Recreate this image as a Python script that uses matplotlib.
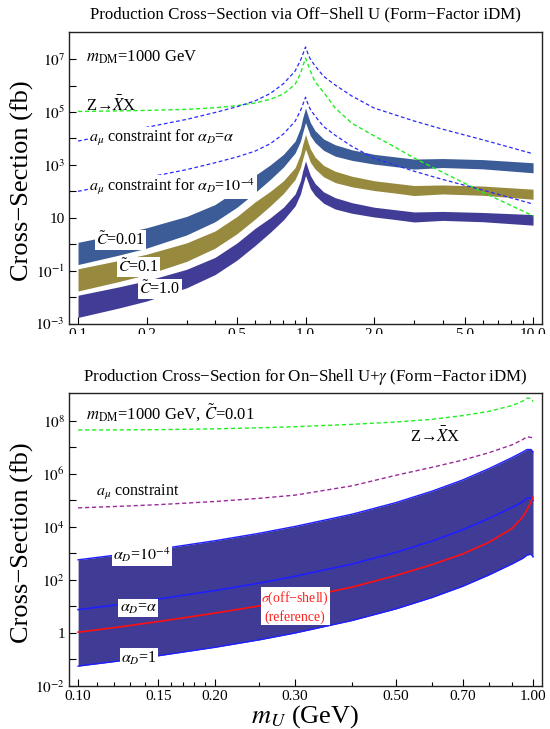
import numpy as np
import matplotlib
matplotlib.use("Agg")
import matplotlib.pyplot as plt
from matplotlib.patches import Rectangle
from matplotlib.ticker import FixedLocator, FixedFormatter, NullLocator, NullFormatter

plt.rcParams['font.family'] = ['Liberation Serif', 'DejaVu Serif']
plt.rcParams['mathtext.fontset'] = 'stix'

# ---- top panel: off-shell U, values are log10(sigma / fb) ----
mTop = [0.1, 0.15, 0.2, 0.3, 0.4, 0.5, 0.6, 0.7, 0.8, 0.9, 0.95, 0.97, 1.0, 1.03, 1.05,
        1.1, 1.2, 1.35, 1.6, 2.0, 2.5, 3.0, 4.0, 6.0, 10.0]
c001Hi = [0.07, 0.38, 0.62, 1.05, 1.5, 2.05, 2.6, 3.0, 3.4, 3.9, 4.4, 4.75, 5.15, 4.8, 4.6,
          4.3, 3.98, 3.76, 3.57, 3.4, 3.3, 3.22, 3.24, 3.2, 3.08]
c001Lo = [-0.77, -0.42, -0.15, 0.35, 0.85, 1.4, 1.95, 2.45, 2.92, 3.45, 3.9, 4.2, 4.6, 4.3, 4.1,
          3.85, 3.55, 3.33, 3.17, 3.03, 2.93, 2.84, 2.9, 2.85, 2.7]
c01Hi = [-0.93, -0.62, -0.38, 0.05, 0.5, 1.05, 1.6, 2.0, 2.4, 2.9, 3.4, 3.75, 4.15, 3.8, 3.6,
         3.3, 2.98, 2.76, 2.57, 2.4, 2.3, 2.22, 2.24, 2.2, 2.08]
c01Lo = [-1.77, -1.42, -1.15, -0.65, -0.15, 0.4, 0.95, 1.45, 1.92, 2.45, 2.9, 3.2, 3.6, 3.3, 3.1,
         2.85, 2.55, 2.33, 2.17, 2.03, 1.93, 1.84, 1.9, 1.85, 1.7]
c1Hi = [-1.93, -1.62, -1.38, -0.95, -0.5, 0.05, 0.6, 1.0, 1.4, 1.9, 2.4, 2.75, 3.15, 2.8, 2.6,
        2.3, 1.98, 1.76, 1.57, 1.4, 1.3, 1.22, 1.24, 1.2, 1.12]
c1Lo = [-2.77, -2.42, -2.15, -1.65, -1.15, -0.6, -0.05, 0.45, 0.92, 1.45, 1.9, 2.2, 2.6, 2.3, 2.1,
        1.85, 1.55, 1.33, 1.17, 1.03, 0.93, 0.84, 0.9, 0.85, 0.72]
zTop = [5.02, 5.04, 5.06, 5.1, 5.16, 5.24, 5.34, 5.48, 5.68, 6.05, 6.45, 6.7, 7.04, 6.75, 6.55,
        6.15, 5.75, 5.15, 4.57, 4.1, 3.65, 3.26, 2.72, 1.97, 1.07]
amuAlpha = [3.9, 4.2, 4.42, 4.72, 4.98, 5.2, 5.42, 5.7, 6.07, 6.55, 6.95, 7.15, 7.46, 7.15, 7.0,
            6.75, 6.35, 6.02, 5.6, 5.15, 4.88, 4.66, 4.35, 3.95, 3.42]
amu1em4 = [2.0, 2.3, 2.52, 2.82, 3.08, 3.3, 3.52, 3.8, 4.17, 4.65, 5.05, 5.25, 5.56, 5.25, 5.1,
           4.85, 4.45, 4.12, 3.7, 3.25, 2.98, 2.76, 2.45, 2.05, 1.52]

# ---- bottom panel: on-shell U + gamma ----
mBot = [0.1, 0.12, 0.15, 0.2, 0.25, 0.3, 0.4, 0.5, 0.6, 0.7, 0.8, 0.9, 0.95, 0.97, 0.99, 1.0]
zBot = [7.66, 7.66, 7.67, 7.7, 7.74, 7.78, 7.87, 7.96, 8.06, 8.2, 8.36, 8.58, 8.75, 8.86, 8.85, 8.73]
amuBot = [4.72, 4.77, 4.84, 4.96, 5.08, 5.2, 5.55, 5.95, 6.25, 6.52, 6.8, 7.1, 7.3, 7.4, 7.38, 7.28]
aD1em4 = [2.76, 2.93, 3.16, 3.48, 3.76, 4.02, 4.48, 4.92, 5.35, 5.77, 6.2, 6.62, 6.83, 6.92, 6.92, 6.83]
aDalpha = [0.88, 1.05, 1.28, 1.6, 1.88, 2.14, 2.6, 3.04, 3.47, 3.89, 4.32, 4.74, 4.95, 5.08, 5.1, 5.0]
aD1 = [-1.25, -1.08, -0.86, -0.54, -0.26, 0.0, 0.47, 0.91, 1.34, 1.76, 2.19, 2.61, 2.82, 2.94, 2.97, 2.87]
offShell = [0.03, 0.2, 0.43, 0.75, 1.02, 1.28, 1.73, 2.17, 2.58, 2.98, 3.42, 3.95, 4.38, 4.65, 4.95, 5.12]

topXTicks = [0.1, 0.2, 0.5, 1.0, 2.0, 5.0, 10.0]
topXLabels = ["0.1", "0.2", "0.5", "1.0", "2.0", "5.0", "10.0"]
botXTicks = [0.1, 0.15, 0.2, 0.3, 0.5, 0.7, 1.0]
botXLabels = ["0.10", "0.15", "0.20", "0.30", "0.50", "0.70", "1.00"]


def p(v):
    return 10.0 ** np.array(v)


def decadeLabels(lo, hi):
    labs = []
    for e in range(lo, hi + 1):
        if (e - lo) % 2:
            labs.append("")
        elif e == 0:
            labs.append("1")
        elif e == 1:
            labs.append("10")
        else:
            labs.append(r"$10^{%d}$" % e)
    return labs


def styleAxis(ax, xTicks, xLabels, xMinor, eLo, eHi):
    ax.set_xscale("log")
    ax.set_yscale("log")
    ax.xaxis.set_major_locator(FixedLocator(xTicks))
    ax.xaxis.set_major_formatter(FixedFormatter(xLabels))
    ax.xaxis.set_minor_locator(FixedLocator(xMinor))
    ax.xaxis.set_minor_formatter(NullFormatter())
    ax.yaxis.set_major_locator(FixedLocator([10.0 ** e for e in range(eLo, eHi + 1)]))
    ax.yaxis.set_major_formatter(FixedFormatter(decadeLabels(eLo, eHi)))
    ax.yaxis.set_minor_locator(NullLocator())
    ax.tick_params(which="both", direction="in", top=False, right=False, width=0.8,
                   labelsize=11, pad=3)
    ax.tick_params(which="major", length=5)
    ax.tick_params(which="minor", length=3)
    for s in ax.spines.values():
        s.set_linewidth(1.0)
        s.set_color("#222222")
    ax.set_ylabel("Cross−Section (fb)", fontsize=19)
    ax.yaxis.set_label_coords(-0.075, 0.49)


fig = plt.figure(figsize=(5.5, 7.29), dpi=100)
ax1 = fig.add_axes([0.1255, 0.5562, 0.86, 0.4005])
ax2 = fig.add_axes([0.1255, 0.059, 0.86, 0.4022])

box = dict(facecolor="white", edgecolor="none", pad=1.0)
dash = (0, (3, 2))
zLabel = "Z→" + r"$\bar{X}$" + "X"

# top panel
ax1.fill_between(mTop, p(c001Lo), p(c001Hi), color="#3c5c98", lw=0)
ax1.fill_between(mTop, p(c01Lo), p(c01Hi), color="#978a3f", lw=0)
ax1.fill_between(mTop, p(c1Lo), p(c1Hi), color="#413d97", lw=0)
ax1.plot(mTop, p(zTop), color="#22ee22", lw=1.0, ls=dash)
ax1.plot(mTop, p(amuAlpha), color="#2a2aff", lw=0.9, ls=dash)
ax1.plot(mTop, p(amu1em4), color="#2a2aff", lw=0.9, ls=dash)
styleAxis(ax1, topXTicks, topXLabels,
          [0.3, 0.4, 0.6, 0.7, 0.8, 0.9, 3, 4, 6, 7, 8, 9], -3, 7)
ax1.set_xlim(0.0913, 10.95)
ax1.set_ylim(1e-3, 1.1e8)
ax1.text(0.5, 1.06, "Production Cross−Section via Off−Shell U (Form−Factor iDM)",
         transform=ax1.transAxes, ha="center", va="center", fontsize=12.2)

t = ax1.transAxes
ax1.text(0.036, 0.913, r"$m_{\rm DM}$=1000 GeV", transform=t, va="center", fontsize=12)
ax1.text(0.036, 0.747, zLabel, transform=t, va="center", fontsize=12)
ax1.text(0.043, 0.635, r"$a_\mu$ constraint for $\alpha_D$=$\alpha$", transform=t,
         va="center", fontsize=11.5, bbox=box, zorder=5)
ax1.text(0.043, 0.467, r"$a_\mu$ constraint for $\alpha_D$=$10^{-4}$", transform=t,
         va="center", fontsize=11.5, bbox=box, zorder=5)
ax1.text(0.057, 0.286, r"$\tilde{C}$=0.01", transform=t, va="center", fontsize=11.5,
         bbox=box, zorder=5)
ax1.text(0.104, 0.194, r"$\tilde{C}$=0.1", transform=t, va="center", fontsize=11.5,
         bbox=box, zorder=5)
ax1.text(0.148, 0.118, r"$\tilde{C}$=1.0", transform=t, va="center", fontsize=11.5,
         bbox=box, zorder=5)

# bottom panel
ax2.fill_between(mBot, p(aD1), p(aD1em4), color="#403c96", lw=0)
ax2.plot(mBot, p(aD1em4), color="#1f1fff", lw=1.0)
ax2.plot(mBot, p(aD1), color="#1f1fff", lw=1.0)
ax2.plot(mBot, p(aDalpha), color="#1f1fff", lw=1.2)
ax2.plot(mBot, p(offShell), color="#ff1010", lw=1.2)
ax2.plot(mBot, p(zBot), color="#22ee22", lw=1.0, ls=dash)
ax2.plot(mBot, p(amuBot), color="#9a2a9a", lw=1.0, ls=dash)
styleAxis(ax2, botXTicks, botXLabels,
          [0.11, 0.12, 0.13, 0.14, 0.16, 0.17, 0.18, 0.19, 0.25, 0.4, 0.6, 0.8, 0.9], -2, 8)
ax2.set_xlim(0.0955, 1.0466)
ax2.set_ylim(1e-2, 1.15e9)
ax2.text(0.5, 1.054, r"Production Cross−Section for On−Shell U+$\gamma$ (Form−Factor iDM)",
         transform=ax2.transAxes, ha="center", va="center", fontsize=12.2)
ax2.set_xlabel(r"$m_U$ (GeV)", fontsize=19)
ax2.xaxis.set_label_coords(0.5, -0.06)

t = ax2.transAxes
ax2.text(0.036, 0.935, r"$m_{\rm DM}$=1000 GeV, $\tilde{C}$=0.01", transform=t,
         va="center", fontsize=12)
ax2.text(0.72, 0.85, zLabel, transform=t, va="center", fontsize=12)
ax2.text(0.057, 0.66, r"$a_\mu$ constraint", transform=t, va="center", fontsize=11.5)
ax2.text(0.093, 0.447, r"$\alpha_D$=$10^{-4}$", transform=t, va="center", fontsize=11.5,
         bbox=box, zorder=5)
ax2.text(0.107, 0.266, r"$\alpha_D$=$\alpha$", transform=t, va="center", fontsize=11.5,
         bbox=box, zorder=5)
ax2.text(0.11, 0.095, r"$\alpha_D$=1", transform=t, va="center", fontsize=11.5,
         bbox=box, zorder=5)
ax2.text(0.478, 0.27, "$\\sigma$(off−shell)\n(reference)", transform=t, ha="center",
         va="center", color="#ff2020", fontsize=10, linespacing=1.3,
         bbox=dict(facecolor="white", edgecolor="none", pad=0.5), zorder=5)

# the original figure cuts the top panel's tick labels in half
fig.add_artist(Rectangle((0, 0.4952), 1, 0.0466, transform=fig.transFigure,
                         facecolor="white", edgecolor="none", zorder=10))

fig.savefig("out.png", dpi=100)
